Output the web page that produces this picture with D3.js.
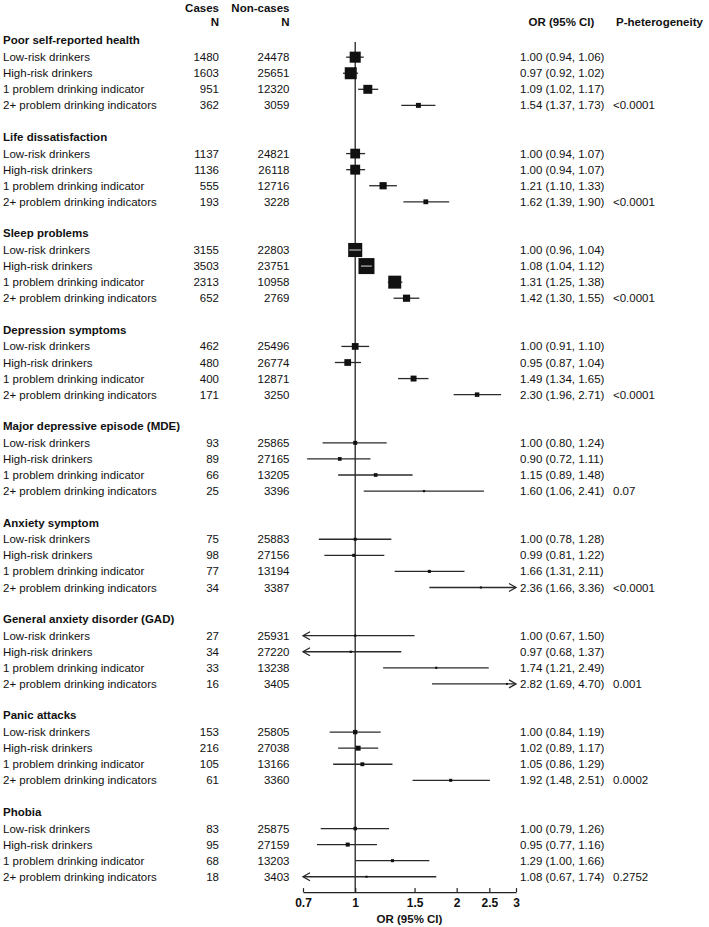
<!DOCTYPE html>
<html>
<head>
<meta charset="utf-8">
<script src="https://cdn.jsdelivr.net/npm/d3@7"></script>
<style>
  html, body { margin: 0; padding: 0; background: #fff; }
  svg { display: block; }
  text { font-family: "Liberation Sans", Arial, Helvetica, sans-serif; fill: #111; }
</style>
</head>
<body>
<div id="chart"></div>
<script>
const outcomes = [
  "Poor self-reported health",
  "Life dissatisfaction",
  "Sleep problems",
  "Depression symptoms",
  "Major depressive episode (MDE)",
  "Anxiety symptom",
  "General anxiety disorder (GAD)",
  "Panic attacks",
  "Phobia"
];
const groups = [
  "Low-risk drinkers",
  "High-risk drinkers",
  "1 problem drinking indicator",
  "2+ problem drinking indicators"
];
const cases = [
  [1480, 1603, 951, 362],
  [1137, 1136, 555, 193],
  [3155, 3503, 2313, 652],
  [462, 480, 400, 171],
  [93, 89, 66, 25],
  [75, 98, 77, 34],
  [27, 34, 33, 16],
  [153, 216, 105, 61],
  [83, 95, 68, 18]
];
const nonCases = [
  [24478, 25651, 12320, 3059],
  [24821, 26118, 12716, 3228],
  [22803, 23751, 10958, 2769],
  [25496, 26774, 12871, 3250],
  [25865, 27165, 13205, 3396],
  [25883, 27156, 13194, 3387],
  [25931, 27220, 13238, 3405],
  [25805, 27038, 13166, 3360],
  [25875, 27159, 13203, 3403]
];
const orEst = [
  [1.00, 0.97, 1.09, 1.54],
  [1.00, 1.00, 1.21, 1.62],
  [1.00, 1.08, 1.31, 1.42],
  [1.00, 0.95, 1.49, 2.30],
  [1.00, 0.90, 1.15, 1.60],
  [1.00, 0.99, 1.66, 2.36],
  [1.00, 0.97, 1.74, 2.82],
  [1.00, 1.02, 1.05, 1.92],
  [1.00, 0.95, 1.29, 1.08]
];
const ciLow = [
  [0.94, 0.92, 1.02, 1.37],
  [0.94, 0.94, 1.10, 1.39],
  [0.96, 1.04, 1.25, 1.30],
  [0.91, 0.87, 1.34, 1.96],
  [0.80, 0.72, 0.89, 1.06],
  [0.78, 0.81, 1.31, 1.66],
  [0.67, 0.68, 1.21, 1.69],
  [0.84, 0.89, 0.86, 1.48],
  [0.79, 0.77, 1.00, 0.67]
];
const ciHigh = [
  [1.06, 1.02, 1.17, 1.73],
  [1.07, 1.07, 1.33, 1.90],
  [1.04, 1.12, 1.38, 1.55],
  [1.10, 1.04, 1.65, 2.71],
  [1.24, 1.11, 1.48, 2.41],
  [1.28, 1.22, 2.11, 3.36],
  [1.50, 1.37, 2.49, 4.70],
  [1.19, 1.17, 1.29, 2.51],
  [1.26, 1.16, 1.66, 1.74]
];
// relative marker weights (0-100)
const weights = [
  [69, 75, 56, 31],
  [61, 62, 45, 30],
  [88, 100, 81, 45],
  [42, 42, 37, 28],
  [25, 23, 23, 14],
  [19, 19, 19, 13],
  [14, 14, 14, 12],
  [27, 31, 24, 19],
  [22, 25, 19, 13]
];
const pHet = ["<0.0001", "<0.0001", "<0.0001", "<0.0001", "0.07", "<0.0001", "0.001", "0.0002", "0.2752"];
const tickValues = [0.7, 1, 1.5, 2, 2.5, 3];
const axisDomain = [0.7, 3];

const W = 709, H = 927;
const svg = d3.select("#chart").append("svg").attr("width", W).attr("height", H);

const x = d3.scaleLog().domain(axisDomain).range([303, 516]);
const sizeScale = d3.scaleLinear().domain([0, 100]).range([0, 16]);

const titleY0 = 40.4, slot = 16.07, rowShift = 0.7;
const yTitle = s => titleY0 + s * 6 * slot;
const yRow = (s, r) => titleY0 + (s * 6 + r + 1) * slot + rowShift;
const FS = 11.5;

// Header
const hdr = svg.append("g").attr("font-weight", "bold").attr("font-size", FS);
hdr.append("text").attr("x", 219).attr("y", 7.5).attr("dy", "0.35em").attr("text-anchor", "end").style("font-weight", "bold").text("Cases");
hdr.append("text").attr("x", 219).attr("y", 21.5).attr("dy", "0.35em").attr("text-anchor", "end").style("font-weight", "bold").text("N");
hdr.append("text").attr("x", 289.5).attr("y", 7.5).attr("dy", "0.35em").attr("text-anchor", "end").style("font-weight", "bold").text("Non-cases");
hdr.append("text").attr("x", 289.5).attr("y", 21.5).attr("dy", "0.35em").attr("text-anchor", "end").style("font-weight", "bold").text("N");
hdr.append("text").attr("x", 561.5).attr("y", 21.5).attr("dy", "0.35em").attr("text-anchor", "middle").style("font-weight", "bold").text("OR (95% CI)");
hdr.append("text").attr("x", 616).attr("y", 21.5).attr("dy", "0.35em").attr("text-anchor", "start").style("font-weight", "bold").text("P-heterogeneity");

// Reference line at OR = 1
const axisY = titleY0 + 53 * slot;
svg.append("line")
  .attr("x1", x(1)).attr("x2", x(1))
  .attr("y1", 42).attr("y2", axisY)
  .attr("stroke", "#222").attr("stroke-width", 1.3);

const fmt = d3.format(".2f");

outcomes.forEach((title, s) => {
  svg.append("text")
    .attr("x", 3).attr("y", yTitle(s)).attr("dy", "0.35em")
    .attr("font-size", FS).style("font-weight", "bold")
    .text(title);

  groups.forEach((g, r) => {
    const y = yRow(s, r);
    const t = svg.append("g").attr("font-size", FS);
    t.append("text").attr("x", 3).attr("y", y).attr("dy", "0.35em").text(g);
    t.append("text").attr("x", 219).attr("y", y).attr("dy", "0.35em").attr("text-anchor", "end").text(cases[s][r]);
    t.append("text").attr("x", 289.5).attr("y", y).attr("dy", "0.35em").attr("text-anchor", "end").text(nonCases[s][r]);
    t.append("text").attr("x", 520).attr("y", y).attr("dy", "0.35em")
      .text(`${fmt(orEst[s][r])} (${fmt(ciLow[s][r])}, ${fmt(ciHigh[s][r])})`);
    if (r === 3) {
      t.append("text").attr("x", 613).attr("y", y).attr("dy", "0.35em").text(pHet[s]);
    }

    // CI line
    const lo = ciLow[s][r], hi = ciHigh[s][r], est = orEst[s][r];
    const clipLo = lo < axisDomain[0], clipHi = hi > axisDomain[1];
    const x1 = x(Math.max(lo, axisDomain[0])), x2 = x(Math.min(hi, axisDomain[1]));
    svg.append("line")
      .attr("x1", x1).attr("x2", x2).attr("y1", y).attr("y2", y)
      .attr("stroke", "#2a2a2a").attr("stroke-width", 1.3);
    if (clipLo) {
      svg.append("path")
        .attr("d", `M${x1 + 7},${y - 4}L${x1},${y}L${x1 + 7},${y + 4}`)
        .attr("fill", "none").attr("stroke", "#2a2a2a").attr("stroke-width", 1.3);
    }
    if (clipHi) {
      svg.append("path")
        .attr("d", `M${x2 - 7},${y - 4}L${x2},${y}L${x2 - 7},${y + 4}`)
        .attr("fill", "none").attr("stroke", "#2a2a2a").attr("stroke-width", 1.3);
    }
    // box
    const sz = sizeScale(weights[s][r]);
    const cx = x(est);
    svg.append("rect")
      .attr("x", cx - sz / 2).attr("y", y - sz / 2)
      .attr("width", sz).attr("height", sz)
      .attr("fill", "#111");
    // CI inside box drawn in light colour
    if (x(lo) > cx - sz / 2 && x(hi) < cx + sz / 2) {
      svg.append("line")
        .attr("x1", x(lo)).attr("x2", x(hi)).attr("y1", y).attr("y2", y)
        .attr("stroke", "#bbb").attr("stroke-width", 1.2);
    }
  });
});

// Axis
const axis = d3.axisBottom(x)
  .tickValues(tickValues)
  .tickFormat(d => String(d))
  .tickSizeInner(-4)
  .tickSizeOuter(0)
  .tickPadding(6);
const ax = svg.append("g").attr("transform", `translate(0,${axisY})`).call(axis);
ax.select(".domain").attr("stroke", "#222").attr("stroke-width", 1.3);
ax.selectAll(".tick line").attr("stroke", "#222").attr("stroke-width", 1.2);
ax.selectAll(".tick text")
  .attr("font-size", 12)
  .style("font-family", "'Liberation Sans', Arial, sans-serif")
  .style("font-weight", "bold")
  .attr("fill", "#111");

svg.append("text")
  .attr("x", (x.range()[0] + x.range()[1]) / 2)
  .attr("y", axisY + 27).attr("dy", "0.35em")
  .attr("text-anchor", "middle")
  .attr("font-size", FS).style("font-weight", "bold")
  .text("OR (95% CI)");
</script>
</body>
</html>
